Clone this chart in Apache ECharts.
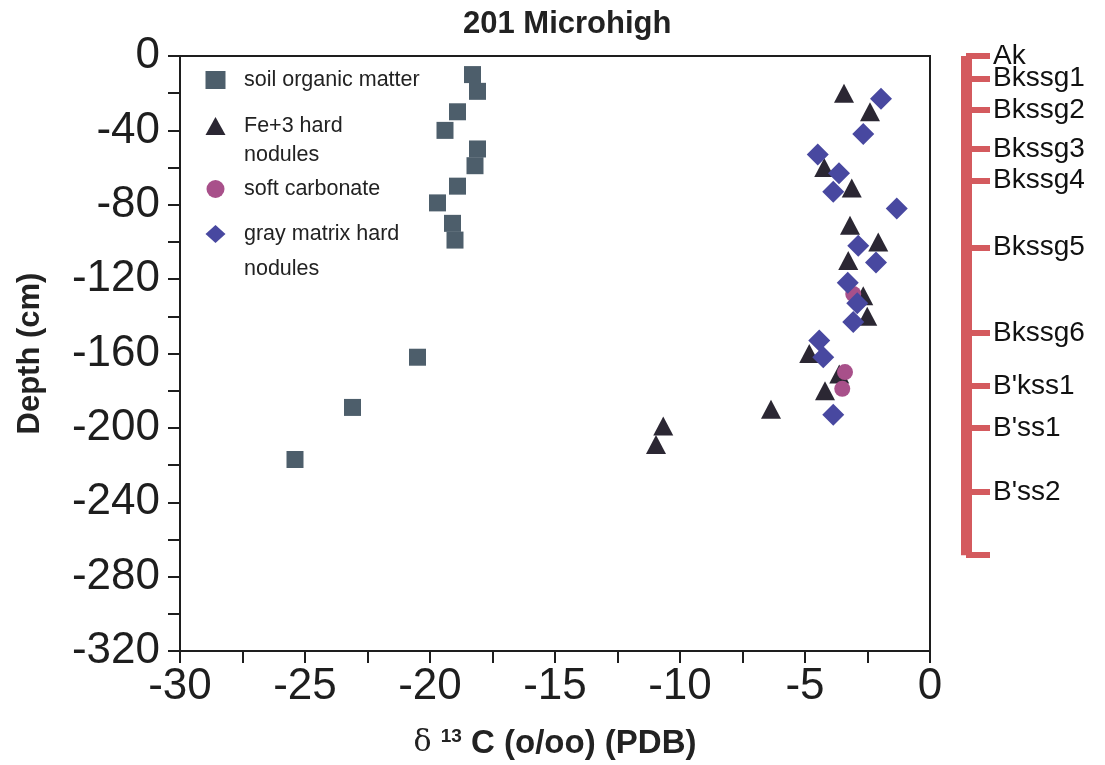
<!DOCTYPE html>
<html>
<head>
<meta charset="utf-8">
<title>201 Microhigh</title>
<script src="https://cdn.jsdelivr.net/npm/echarts@6/dist/echarts.min.js"></script>
<style>
  html, body { margin: 0; padding: 0; background: #fff; }
  #chart { width: 1105px; height: 765px; }
</style>
</head>
<body>
<div id="chart"></div>
<script>
// sample groups: delta 13C (x) and depth in cm (y)
const seriesNames = ['soil organic matter', 'Fe+3 hard nodules', 'soft carbonate', 'gray matrix hard nodules'];

const somX = [-18.3, -18.1, -18.9, -19.4, -18.1, -18.2, -18.9, -19.7, -19.1, -19.0, -20.5, -23.1, -25.4];
const somY = [-10, -19, -30, -40, -50, -59, -70, -79, -90, -99, -162, -189, -217];

const feX = [-3.44, -2.4, -4.23, -3.13, -3.2, -2.07, -3.27, -2.67, -2.51, -4.83, -3.63, -4.2, -6.36, -10.67, -10.96];
const feY = [-20, -30, -60, -71, -91, -100, -110, -129, -140, -160, -171, -180, -190, -199, -209];

const softX = [-3.07, -3.4, -3.51];
const softY = [-128, -170, -179];

const grayX = [-1.96, -2.67, -4.49, -3.64, -3.87, -1.33, -2.87, -2.16, -3.29, -2.91, -3.07, -4.43, -4.27, -3.87];
const grayY = [-23, -42, -53, -63, -73, -82, -102, -111, -122, -133, -143, -153, -162, -193];

// soil horizons (boundary depths, last one = bottom of profile)
const horizonNames = ['Ak', 'Bkssg1', 'Bkssg2', 'Bkssg3', 'Bkssg4', 'Bkssg5', 'Bkssg6', "B'kss1", "B'ss1", "B'ss2"];
const horizonDepths = [0, -12, -29, -50, -67, -103, -149, -177.5, -200, -234.5, -268.5];

const SANS = '"Liberation Sans", Arial, Helvetica, sans-serif';
const INK = '#1e1e1e';
const RED = '#d45a5e';

function pairs(xs, ys) {
  return xs.map((x, i) => [x, ys[i]]);
}

const chart = echarts.init(document.getElementById('chart'));

const plotTop = 56, plotBottom = 114;
const plotHeight = 765 - plotTop - plotBottom;
const depthMin = -320;
const pxPerCm = plotHeight / -depthMin;
const profileBottom = horizonDepths[horizonDepths.length - 1];

// neighbouring horizon labels sit too close for one axis (echarts drops one),
// so they are split over two label-only axes
const labelDepths = horizonDepths.slice(0, horizonNames.length);
const evenDepths = labelDepths.filter((d, i) => i % 2 === 0);
const oddDepths = labelDepths.filter((d, i) => i % 2 === 1);

function horizonLabelAxis(values) {
  return {
    gridIndex: 1,
    type: 'value',
    position: 'right',
    offset: 0,
    min: profileBottom, max: 0,
    axisLine: { show: false },
    axisTick: { show: false },
    splitLine: { show: false },
    axisLabel: {
      customValues: values,
      formatter: v => horizonNames[horizonDepths.indexOf(v)],
      fontFamily: SANS, fontSize: 28, color: '#111', margin: 27
    }
  };
}

const option = {
  backgroundColor: '#fff',
  animation: false,
  title: {
    text: '201 Microhigh',
    left: 463,
    top: 9,
    padding: 0,
    textStyle: { fontFamily: SANS, fontSize: 31, fontWeight: 'bold', color: '#222' }
  },
  legend: {
    orient: 'vertical',
    left: 205.5,
    top: 55.5,
    padding: 0,
    itemGap: -40,
    itemWidth: 20,
    itemHeight: 18,
    selectedMode: false,
    // blank first line keeps the icon level with the first text line
    formatter: name => name.indexOf(' nodules') > 0 ? '\n' + name.replace(' nodules', '\nnodules') : name,
    textStyle: { fontFamily: SANS, fontSize: 21.5, color: '#222', lineHeight: 31, padding: [0, 0, 0, 13.5] },
    data: [
      { name: seriesNames[0] },
      { name: seriesNames[1], textStyle: { lineHeight: 29, padding: [27, 0, 27, 13.5] } },
      { name: seriesNames[2], textStyle: { lineHeight: 65 } },
      { name: seriesNames[3], textStyle: { lineHeight: 35 } }
    ]
  },
  grid: [
    {
      left: 180, right: 175, top: plotTop, bottom: plotBottom,
      show: true, borderColor: INK, borderWidth: 2,
      outerBoundsMode: 'none'
    },
    {
      right: 139, width: 10,
      top: plotTop,
      height: -profileBottom * pxPerCm,
      outerBoundsMode: 'none'
    }
  ],
  xAxis: [
    {
      type: 'value',
      min: -30, max: 0, interval: 2.5,
      axisLine: { show: true, onZero: false, lineStyle: { color: INK, width: 2 } },
      axisTick: { show: true, inside: false, length: 12, lineStyle: { color: INK, width: 2 } },
      axisLabel: {
        formatter: v => (v % 5 === 0 ? String(v) : ''),
        fontFamily: SANS, fontSize: 44, color: INK, margin: 14
      },
      splitLine: { show: false },
      name: '{d|δ} {s|13} C (o/oo) (PDB)',
      nameLocation: 'middle',
      nameGap: 76,
      nameTextStyle: {
        fontFamily: SANS, fontWeight: 'bold', fontSize: 33, color: '#222',
        rich: {
          d: { fontFamily: '"DejaVu Serif", "Liberation Serif", serif', fontWeight: 'normal', fontSize: 30, color: '#222' },
          s: { fontFamily: SANS, fontWeight: 'bold', fontSize: 19, verticalAlign: 'top', color: '#222' }
        }
      }
    },
    { gridIndex: 1, type: 'value', show: false }
  ],
  yAxis: [
    {
      type: 'value',
      min: depthMin, max: 0, interval: 20,
      axisLine: { show: true, onZero: false, lineStyle: { color: INK, width: 2 } },
      axisTick: { show: true, inside: false, length: 12, lineStyle: { color: INK, width: 2 } },
      axisLabel: {
        formatter: v => (v % 40 === 0 ? String(v) : ''),
        fontFamily: SANS, fontSize: 44, color: INK, margin: 20
      },
      splitLine: { show: false },
      name: 'Depth (cm)',
      nameLocation: 'middle',
      nameGap: 134,
      nameTextStyle: { fontFamily: SANS, fontWeight: 'bold', fontSize: 31, color: '#222' }
    },
    {
      // the red horizon bar with a tick at each boundary
      gridIndex: 1,
      type: 'value',
      position: 'right',
      offset: 0,
      min: profileBottom, max: 0,
      axisLine: { show: true, onZero: false, lineStyle: { color: RED, width: 11, cap: 'butt' } },
      axisTick: { show: true, inside: false, length: 24, customValues: horizonDepths, lineStyle: { color: RED, width: 6 } },
      axisLabel: { show: false },
      splitLine: { show: false }
    },
    horizonLabelAxis(evenDepths),
    horizonLabelAxis(oddDepths)
  ],
  series: [
    {
      name: seriesNames[0], type: 'scatter', symbol: 'rect', symbolSize: 17,
      itemStyle: { color: '#4d5e6b', opacity: 1 },
      data: pairs(somX, somY)
    },
    {
      name: seriesNames[1], type: 'scatter', symbol: 'triangle', symbolSize: [20, 19],
      itemStyle: { color: '#2b2733', opacity: 1 },
      data: pairs(feX, feY)
    },
    {
      name: seriesNames[2], type: 'scatter', symbol: 'circle', symbolSize: 16,
      itemStyle: { color: '#a8508a', opacity: 1 },
      data: pairs(softX, softY)
    },
    {
      name: seriesNames[3], type: 'scatter', symbol: 'diamond', symbolSize: [22, 22],
      itemStyle: { color: '#4848a0', opacity: 1 },
      data: pairs(grayX, grayY)
    }
  ]
};

chart.setOption(option);
</script>
</body>
</html>
